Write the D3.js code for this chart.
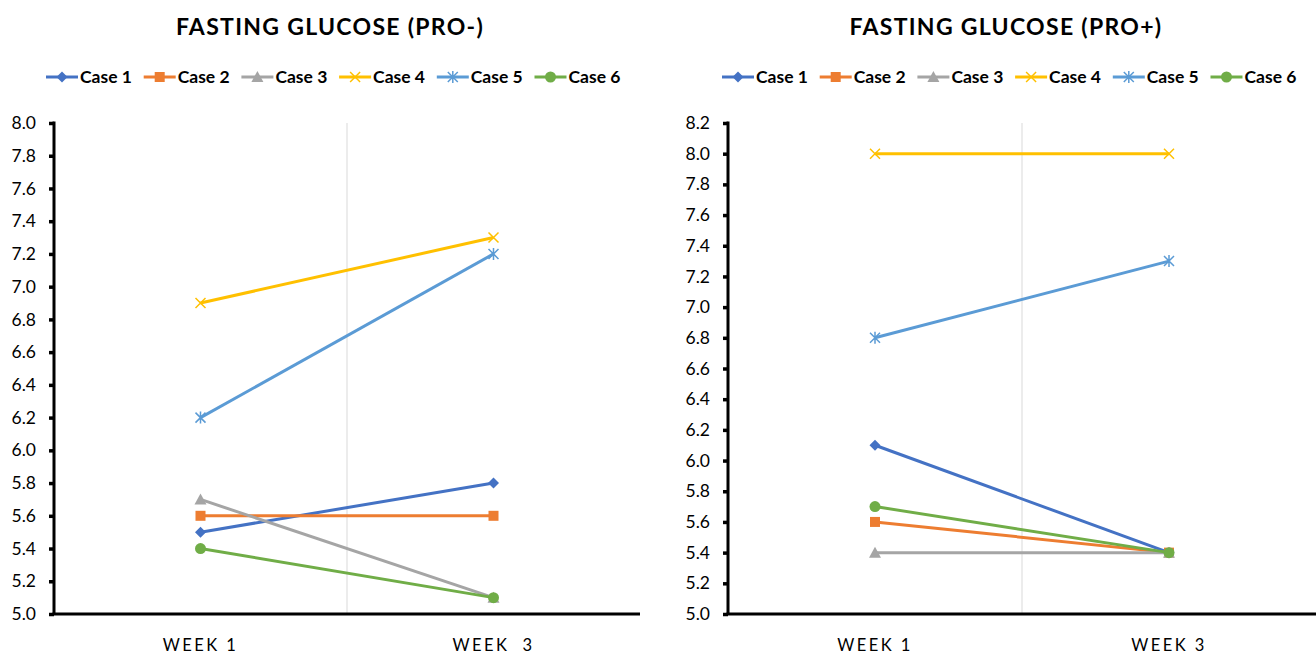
<!DOCTYPE html>
<html>
<head>
<meta charset="utf-8">
<script src="https://cdn.jsdelivr.net/npm/d3@7"></script>
<style>
  html, body { margin: 0; padding: 0; background: #fff; }
  svg { display: block; }
  text { font-family: Lato, "Open Sans", sans-serif; }
</style>
</head>
<body>
<svg id="chart" width="1316" height="655"></svg>
<script>
// Series and category data
const weeksLeft = ["WEEK 1", "WEEK  3"];
const weeksRight = ["WEEK 1", "WEEK 3"];
const cases = ["Case 1", "Case 2", "Case 3", "Case 4", "Case 5", "Case 6"];
const colors = ["#4472C4", "#ED7D31", "#A5A5A5", "#FFC000", "#5B9BD5", "#70AD47"];
const markers = ["diamond", "square", "triangle", "x", "asterisk", "circle"];

const proMinus = [
  [5.5, 5.8],
  [5.6, 5.6],
  [5.7, 5.1],
  [6.9, 7.3],
  [6.2, 7.2],
  [5.4, 5.1]
];
const proPlus = [
  [6.1, 5.4],
  [5.6, 5.4],
  [5.4, 5.4],
  [8.0, 8.0],
  [6.8, 7.3],
  [5.7, 5.4]
];
const ticksLeft = [5.0, 5.2, 5.4, 5.6, 5.8, 6.0, 6.2, 6.4, 6.6, 6.8, 7.0, 7.2, 7.4, 7.6, 7.8, 8.0];
const ticksRight = [5.0, 5.2, 5.4, 5.6, 5.8, 6.0, 6.2, 6.4, 6.6, 6.8, 7.0, 7.2, 7.4, 7.6, 7.8, 8.0, 8.2];

const FONT = "Lato, 'Open Sans', sans-serif";
const svg = d3.select("#chart");

function drawMarker(g, type, color, x, y) {
  const s = 5.5;
  if (type === "diamond") {
    g.append("path").attr("d", `M${x},${y - s} L${x + s},${y} L${x},${y + s} L${x - s},${y} Z`).attr("fill", color);
  } else if (type === "square") {
    g.append("rect").attr("x", x - 5).attr("y", y - 5).attr("width", 10).attr("height", 10).attr("fill", color);
  } else if (type === "triangle") {
    g.append("path").attr("d", `M${x},${y - 6} L${x + 6},${y + 5} L${x - 6},${y + 5} Z`).attr("fill", color);
  } else if (type === "x") {
    g.append("path").attr("d", `M${x - 5},${y - 5} L${x + 5},${y + 5} M${x - 5},${y + 5} L${x + 5},${y - 5}`)
      .attr("stroke", color).attr("stroke-width", 1.5).attr("fill", "none");
  } else if (type === "asterisk") {
    g.append("path").attr("d", `M${x - 5},${y - 5} L${x + 5},${y + 5} M${x - 5},${y + 5} L${x + 5},${y - 5} M${x},${y - 6} L${x},${y + 6}`)
      .attr("stroke", color).attr("stroke-width", 1.5).attr("fill", "none");
  } else if (type === "circle") {
    g.append("circle").attr("cx", x).attr("cy", y).attr("r", 5.5).attr("fill", color);
  }
}

function drawPanel(opts) {
  const { left, right, top, bottom, yMax, ticks, cats, data, title, titleX, legendX } = opts;
  const g = svg.append("g");

  const x = d3.scaleBand().domain(cats).range([left, right]);
  const y = d3.scaleLinear().domain([5.0, yMax]).range([bottom, top]);

  // Title
  g.append("text").attr("x", titleX).attr("y", 35)
    .attr("text-anchor", "middle").attr("font-size", 23).attr("font-weight", "bold")
    .attr("letter-spacing", 1.3).attr("fill", "#000").text(title);

  // Legend
  cases.forEach((c, i) => {
    const lx = legendX + i * 97.7;
    const lg = g.append("g");
    lg.append("line").attr("x1", lx).attr("x2", lx + 32).attr("y1", 77).attr("y2", 77)
      .attr("stroke", colors[i]).attr("stroke-width", 3);
    drawMarker(lg, markers[i], colors[i], lx + 16, 77);
    lg.append("text").attr("x", lx + 34).attr("y", 83).attr("font-size", 17.5).attr("font-weight", "bold")
      .attr("fill", "#000").text(c);
  });

  // Category separator gridline
  g.append("line").attr("x1", left + x.step()).attr("x2", left + x.step())
    .attr("y1", top).attr("y2", bottom).attr("stroke", "#d9d9d9").attr("stroke-width", 1);

  // Y axis
  const yAxis = d3.axisLeft(y).tickValues(ticks).tickFormat(d3.format(".1f")).tickSize(5).tickPadding(13);
  const ya = g.append("g").attr("transform", `translate(${left},0)`).call(yAxis);
  ya.select(".domain").attr("stroke", "#000").attr("stroke-width", 3).attr("d", `M0,${top - 1.5}V${bottom}`);
  ya.selectAll(".tick line").attr("stroke", "#000").attr("stroke-width", 3.5);
  ya.selectAll(".tick text").attr("font-size", 17.5).attr("fill", "#000").style("font-family", FONT);

  // X axis
  const xAxis = d3.axisBottom(x).tickSize(0).tickPadding(25);
  const xa = g.append("g").attr("transform", `translate(0,${bottom})`).call(xAxis);
  xa.select(".domain").attr("stroke", "#000").attr("stroke-width", 3).attr("d", `M${left - 1.5},0H${right}`);
  xa.selectAll(".tick text").attr("font-size", 16.5).attr("fill", "#000").attr("letter-spacing", 2.4)
    .style("white-space", "pre").style("font-family", FONT);

  // Series lines and markers
  data.forEach((vals, i) => {
    const pts = vals.map((v, j) => [x(cats[j]) + x.bandwidth() / 2, y(v)]);
    g.append("path").attr("d", d3.line()(pts)).attr("fill", "none")
      .attr("stroke", colors[i]).attr("stroke-width", 3);
    pts.forEach(p => drawMarker(g, markers[i], colors[i], p[0], p[1]));
  });
}

drawPanel({
  left: 54, right: 640, top: 123, bottom: 614, yMax: 8.0, ticks: ticksLeft,
  cats: weeksLeft, data: proMinus, title: "FASTING GLUCOSE (PRO-)", titleX: 330, legendX: 46
});
drawPanel({
  left: 728, right: 1316, top: 123, bottom: 614, yMax: 8.2, ticks: ticksRight,
  cats: weeksRight, data: proPlus, title: "FASTING GLUCOSE (PRO+)", titleX: 1006, legendX: 722
});
</script>
</body>
</html>
